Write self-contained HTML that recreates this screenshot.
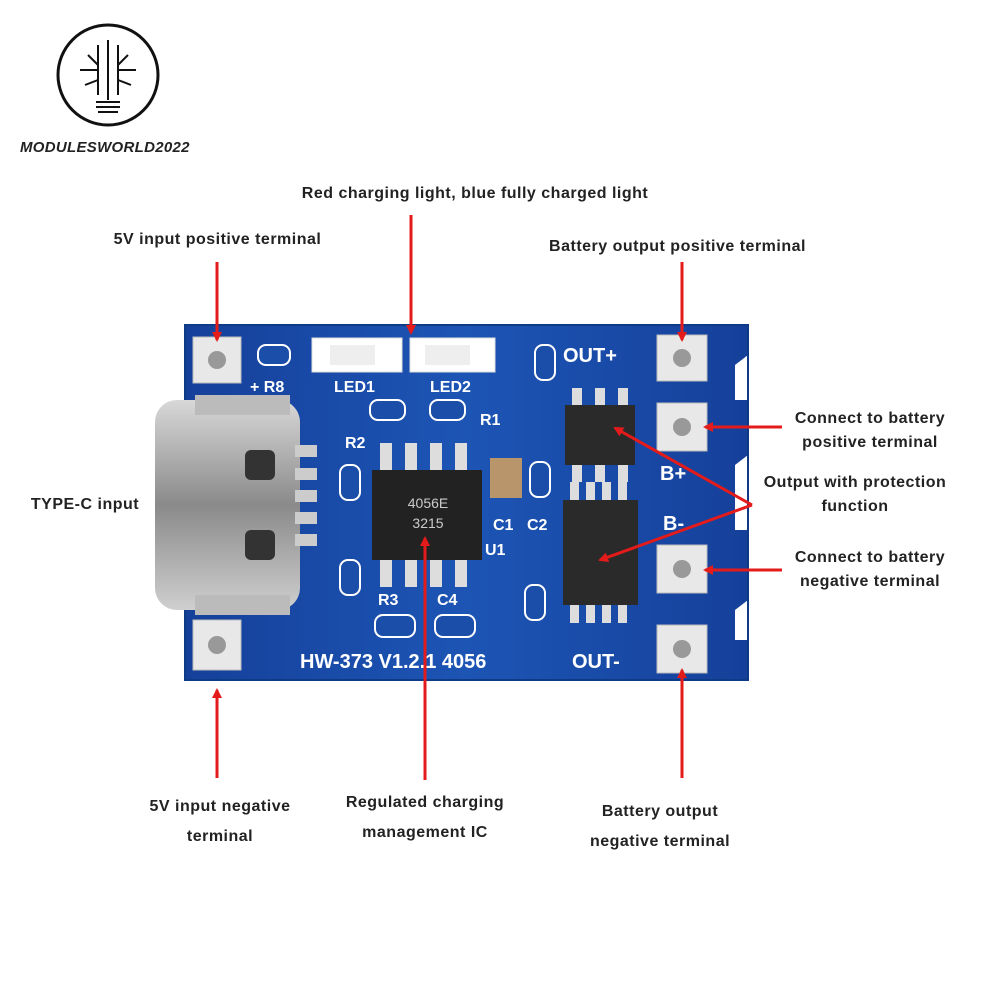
<!DOCTYPE html>
<html><head><style>
body{margin:0;background:#fff;}
.t{position:absolute;font-family:"Liberation Sans",sans-serif;font-weight:bold;font-size:16px;letter-spacing:.5px;color:#222;text-align:center;line-height:24px;}
</style></head><body>
<div style="position:relative;width:1000px;height:1000px;overflow:hidden;">
<svg width="1000" height="1000" style="position:absolute;left:0;top:0">
<defs>
<marker id="a" markerWidth="10" markerHeight="10" refX="8" refY="5" orient="auto" markerUnits="userSpaceOnUse"><path d="M0,0 L10,5 L0,10 z" fill="#e41b1b"/></marker>
<linearGradient id="m" x1="0" y1="0" x2="0" y2="1"><stop offset="0" stop-color="#d8d8d8"/><stop offset=".5" stop-color="#8a8a8a"/><stop offset="1" stop-color="#cfcfcf"/></linearGradient>
<linearGradient id="b" x1="0" y1="0" x2="1" y2="0"><stop offset="0" stop-color="#15409a"/><stop offset=".5" stop-color="#1d55b5"/><stop offset="1" stop-color="#15409a"/></linearGradient>
</defs>
<circle cx="108" cy="75" r="50" fill="none" stroke="#111" stroke-width="3"/>
<g stroke="#111" stroke-width="2" fill="none">
<path d="M108,40 V100 M98,45 V95 M118,45 V95 M88,55 L98,65 M128,55 L118,65 M80,70 H98 M136,70 H118 M85,85 L98,80 M131,85 L118,80"/>
<path d="M96,102 H120 M96,107 H120 M98,112 H118"/>
</g>
<path d="M185,325 H748 V355 L735,365 V400 H748 V455 L735,465 V530 H748 V600 L735,610 V640 H748 V680 H185 Z" fill="url(#b)"/>
<path d="M185,325 H748 V680 H185 Z" fill="none" stroke="#0f3a85" stroke-width="2"/>
<g fill="#e8e8e8" stroke="#bbb"><rect x="193" y="337" width="48" height="46"/><rect x="193" y="620" width="48" height="50"/>
<rect x="657" y="335" width="50" height="46"/><rect x="657" y="403" width="50" height="48"/><rect x="657" y="545" width="50" height="48"/><rect x="657" y="625" width="50" height="48"/></g>
<g fill="#999"><circle cx="217" cy="360" r="9"/><circle cx="217" cy="645" r="9"/><circle cx="682" cy="358" r="9"/><circle cx="682" cy="427" r="9"/><circle cx="682" cy="569" r="9"/><circle cx="682" cy="649" r="9"/></g>
<rect x="155" y="400" width="145" height="210" rx="22" fill="url(#m)"/>
<rect x="195" y="395" width="95" height="20" fill="#bbb"/><rect x="195" y="595" width="95" height="20" fill="#bbb"/>
<rect x="245" y="450" width="30" height="30" rx="6" fill="#333"/><rect x="245" y="530" width="30" height="30" rx="6" fill="#333"/>
<g fill="#ccc"><rect x="295" y="445" width="22" height="12"/><rect x="295" y="468" width="22" height="12"/><rect x="295" y="490" width="22" height="12"/><rect x="295" y="512" width="22" height="12"/><rect x="295" y="534" width="22" height="12"/></g>
<rect x="312" y="338" width="90" height="34" fill="#fff" stroke="#ddd"/><rect x="410" y="338" width="85" height="34" fill="#fff" stroke="#ddd"/>
<rect x="330" y="345" width="45" height="20" fill="#eee"/><rect x="425" y="345" width="45" height="20" fill="#eee"/>
<rect x="372" y="470" width="110" height="90" fill="#222"/>
<g fill="#ddd"><rect x="380" y="443" width="12" height="27"/><rect x="405" y="443" width="12" height="27"/><rect x="430" y="443" width="12" height="27"/><rect x="455" y="443" width="12" height="27"/>
<rect x="380" y="560" width="12" height="27"/><rect x="405" y="560" width="12" height="27"/><rect x="430" y="560" width="12" height="27"/><rect x="455" y="560" width="12" height="27"/></g>
<text x="428" y="508" font-family="Liberation Sans" font-size="14" fill="#ccc" text-anchor="middle">4056E</text>
<text x="428" y="528" font-family="Liberation Sans" font-size="14" fill="#ccc" text-anchor="middle">3215</text>
<rect x="565" y="405" width="70" height="60" fill="#2a2a2a"/>
<g fill="#ddd"><rect x="572" y="388" width="10" height="17"/><rect x="595" y="388" width="10" height="17"/><rect x="618" y="388" width="10" height="17"/><rect x="572" y="465" width="10" height="17"/><rect x="595" y="465" width="10" height="17"/><rect x="618" y="465" width="10" height="17"/></g>
<rect x="563" y="500" width="75" height="105" fill="#2a2a2a"/>
<g fill="#ddd"><rect x="570" y="482" width="9" height="18"/><rect x="586" y="482" width="9" height="18"/><rect x="602" y="482" width="9" height="18"/><rect x="618" y="482" width="9" height="18"/><rect x="570" y="605" width="9" height="18"/><rect x="586" y="605" width="9" height="18"/><rect x="602" y="605" width="9" height="18"/><rect x="618" y="605" width="9" height="18"/></g>
<rect x="490" y="458" width="32" height="40" fill="#b8956a"/>
<g fill="#1b4ea8" stroke="#fff" stroke-width="2"><rect x="258" y="345" width="32" height="20" rx="8"/><rect x="370" y="400" width="35" height="20" rx="8"/><rect x="430" y="400" width="35" height="20" rx="8"/><rect x="340" y="465" width="20" height="35" rx="8"/><rect x="340" y="560" width="20" height="35" rx="8"/><rect x="530" y="462" width="20" height="35" rx="8"/><rect x="535" y="345" width="20" height="35" rx="8"/><rect x="525" y="585" width="20" height="35" rx="8"/><rect x="375" y="615" width="40" height="22" rx="8"/><rect x="435" y="615" width="40" height="22" rx="8"/></g>
<g font-family="Liberation Sans" font-weight="bold" font-size="20" fill="#fff">
<text x="250" y="392" font-size="16">+ R8</text><text x="334" y="392" font-size="16">LED1</text><text x="430" y="392" font-size="16">LED2</text>
<text x="563" y="362">OUT+</text><text x="660" y="480">B+</text><text x="663" y="530">B-</text><text x="572" y="668">OUT-</text>
<text x="300" y="668">HW-373 V1.2.1 4056</text>
<text x="493" y="530" font-size="16">C1</text><text x="527" y="530" font-size="16">C2</text><text x="485" y="555" font-size="16">U1</text><text x="345" y="448" font-size="16">R2</text><text x="378" y="605" font-size="16">R3</text><text x="437" y="605" font-size="16">C4</text><text x="480" y="425" font-size="16">R1</text>
</g>
<g stroke="#e41b1b" stroke-width="3" fill="none" marker-end="url(#a)">
<path d="M217,262 V340"/><path d="M411,215 V333"/><path d="M682,262 V340"/>
<path d="M782,427 H705"/><path d="M782,570 H705"/>
<path d="M217,778 V690"/><path d="M425,780 V538"/><path d="M682,778 V670"/>
<path d="M752,505 L615,428"/><path d="M752,505 L600,560"/>
</g>
</svg>
<div class="t" style="left:20px;top:136px;font-style:italic;font-size:15px;letter-spacing:.3px;text-align:left">MODULESWORLD2022</div>
<div class="t" style="left:275px;top:182px;width:400px">Red charging light, blue fully charged light</div>
<div class="t" style="left:90px;top:228px;width:255px">5V input positive terminal</div>
<div class="t" style="left:525px;top:235px;width:305px">Battery output positive terminal</div>
<div class="t" style="left:765px;top:407px;width:210px">Connect to battery<br>positive terminal</div>
<div class="t" style="left:745px;top:471px;width:220px">Output with protection<br>function</div>
<div class="t" style="left:765px;top:546px;width:210px">Connect to battery<br>negative terminal</div>
<div class="t" style="left:15px;top:493px;width:140px">TYPE-C input</div>
<div class="t" style="left:125px;top:792px;width:190px;line-height:30px">5V input negative<br>terminal</div>
<div class="t" style="left:320px;top:788px;width:210px;line-height:30px">Regulated charging<br>management IC</div>
<div class="t" style="left:560px;top:797px;width:200px;line-height:30px">Battery output<br>negative terminal</div>
</div>
</body></html>
